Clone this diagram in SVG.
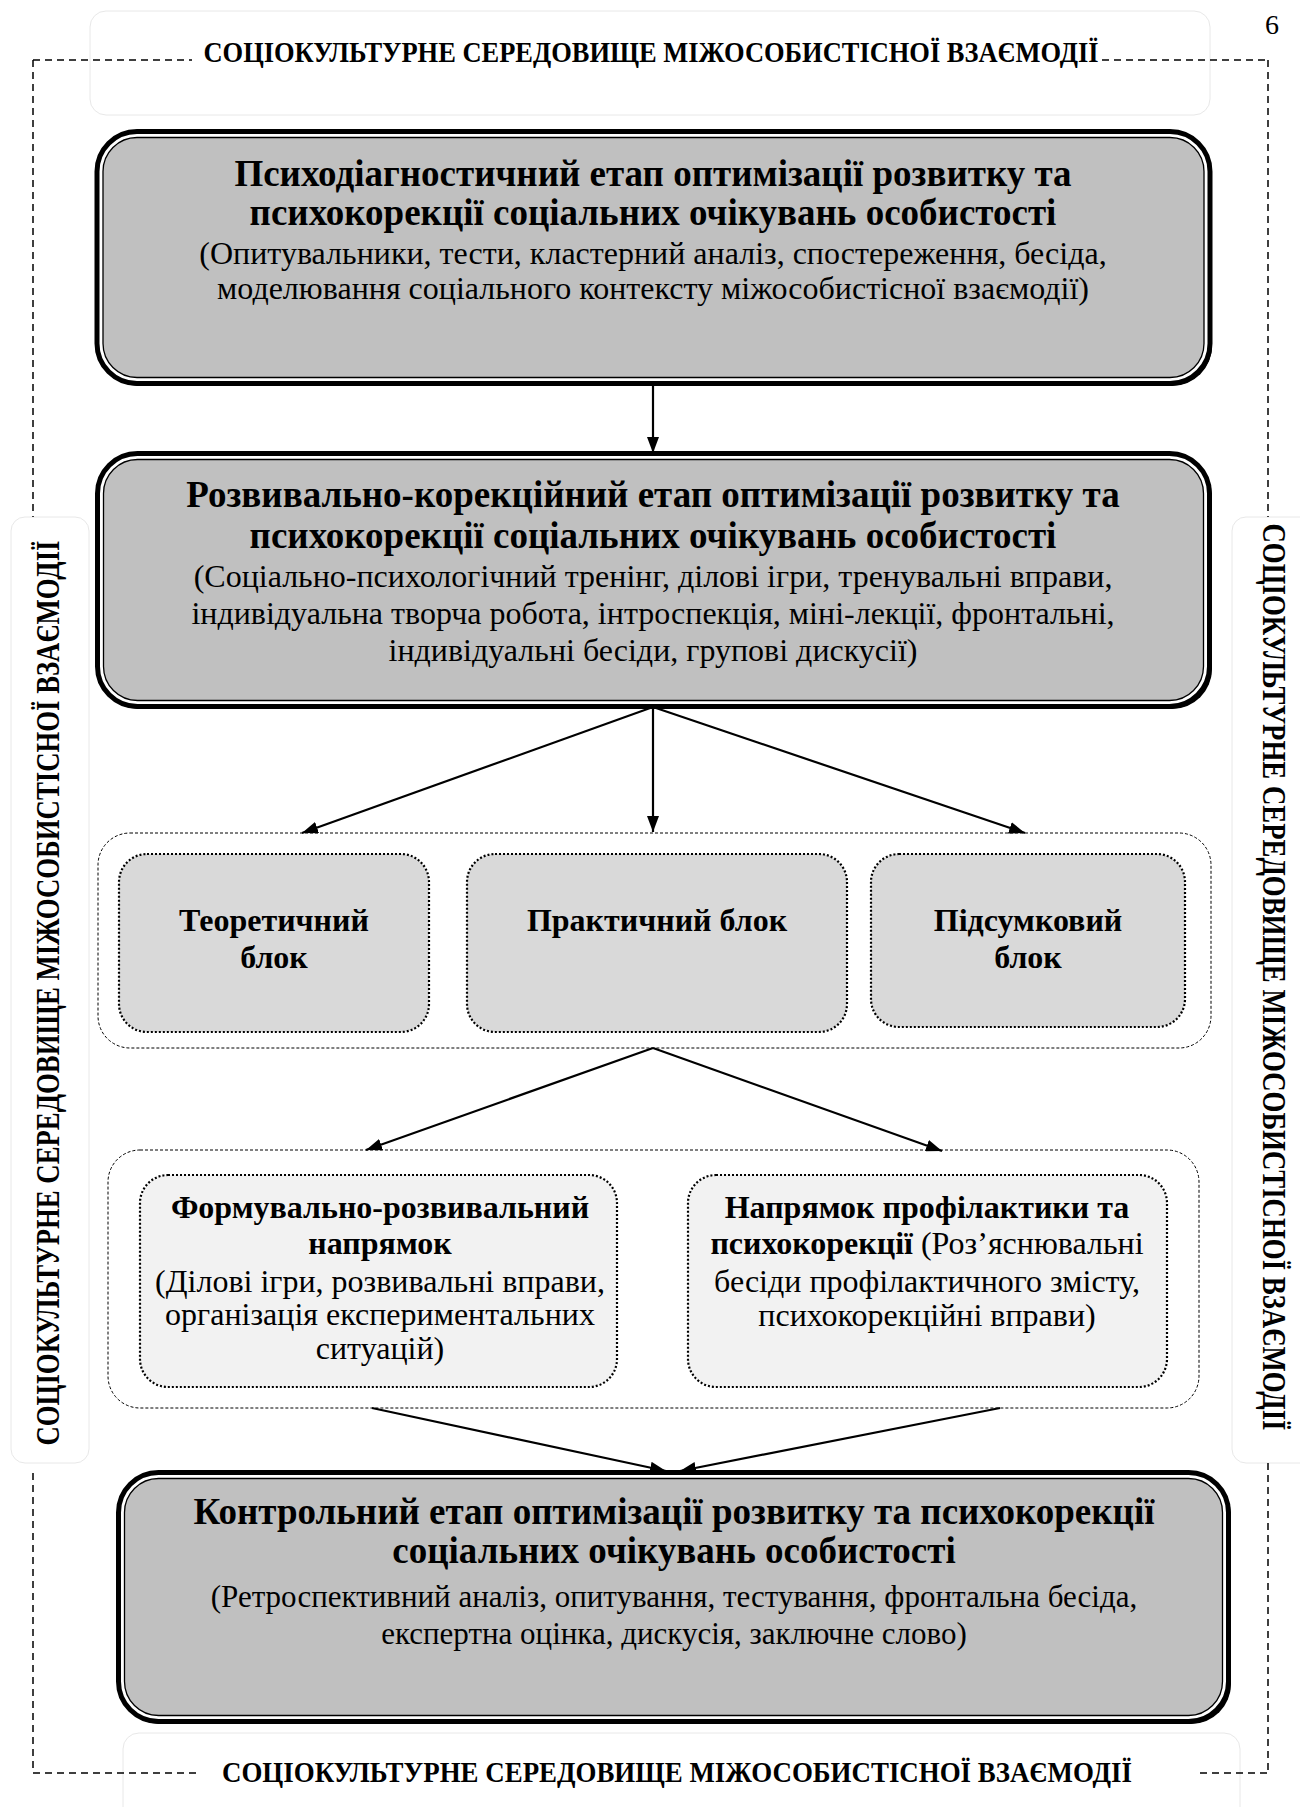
<svg xmlns="http://www.w3.org/2000/svg" width="1300" height="1807" viewBox="0 0 1300 1807">
<style>
.bg{fill:#fff}
.lbl{fill:#fff;stroke:#e8e8e8;stroke-width:1}
.env{fill:none;stroke:#000;stroke-width:1.5;stroke-dasharray:7 5}
.envt{font-family:"Liberation Serif",serif;font-weight:bold;font-size:30px;fill:#000}
.outer{fill:#fff;stroke:#000;stroke-width:5}
.inner{fill:#c0c0c0;stroke:#000;stroke-width:1.3}
.shadow{fill:#000}
.cont{fill:none;stroke:#000;stroke-width:1;stroke-dasharray:3 2}
.blk{fill:#d9d9d9;stroke:#000;stroke-width:2.2;stroke-dasharray:2 2}
.dir{fill:#f2f2f2;stroke:#000;stroke-width:2.2;stroke-dasharray:2 2}
.t{font-family:"Liberation Serif",serif;fill:#000;text-anchor:middle}
.b37{font-weight:bold;font-size:37px}
.r32{font-size:32px}
.r31{font-size:31px}
.b32{font-weight:bold;font-size:32px}
.r32b{font-size:32px}
.con{fill:none;stroke:#000;stroke-width:2.2;marker-end:url(#ah)}
</style>
<defs>
<marker id="ah" markerUnits="userSpaceOnUse" markerWidth="16" markerHeight="12" refX="16" refY="6" orient="auto">
<path d="M0,0 L16,6 L0,12 z" fill="#000"/>
</marker>
</defs>
<rect class="bg" x="0" y="0" width="1300" height="1807"/>

<g id="environment">
<rect class="lbl" x="90" y="11" width="1120" height="104" rx="16"/>
<rect class="lbl" x="11" y="517" width="78" height="946" rx="14"/>
<rect class="lbl" x="1232" y="517" width="90" height="946" rx="14"/>
<rect class="lbl" x="123" y="1733" width="1117" height="100" rx="16"/>
<path class="env" d="M33,60 H192 M1102,60 H1268 M33,60 V517 M33,1473 V1773 M1268,60 V517 M1268,1463 V1773 M33,1773 H196 M1200,1773 H1268"/>
<text class="envt" x="651" y="62" text-anchor="middle" textLength="895" lengthAdjust="spacingAndGlyphs">СОЦІОКУЛЬТУРНЕ СЕРЕДОВИЩЕ МІЖОСОБИСТІСНОЇ ВЗАЄМОДІЇ</text>
<text class="envt" x="677" y="1782" text-anchor="middle" textLength="910" lengthAdjust="spacingAndGlyphs">СОЦІОКУЛЬТУРНЕ СЕРЕДОВИЩЕ МІЖОСОБИСТІСНОЇ ВЗАЄМОДІЇ</text>
<text class="envt" style="font-size:33px" transform="translate(59,993) rotate(-90)" text-anchor="middle" textLength="905" lengthAdjust="spacingAndGlyphs">СОЦІОКУЛЬТУРНЕ СЕРЕДОВИЩЕ МІЖОСОБИСТІСНОЇ ВЗАЄМОДІЇ</text>
<text class="envt" style="font-size:33px" transform="translate(1263,977) rotate(90)" text-anchor="middle" textLength="907" lengthAdjust="spacingAndGlyphs">СОЦІОКУЛЬТУРНЕ СЕРЕДОВИЩЕ МІЖОСОБИСТІСНОЇ ВЗАЄМОДІЇ</text>
<text class="t" x="1272" y="34" style="font-size:28px">6</text>
</g>

<g id="connectors">
<path class="con" d="M653,385 V453"/>
<path class="con" d="M653,707 L302,833"/>
<path class="con" d="M653,707 V832"/>
<path class="con" d="M653,707 L1025,833"/>
<path class="con" d="M653,1048 L366,1150"/>
<path class="con" d="M653,1048 L942,1151"/>
<path class="con" d="M372,1408 L666,1471"/>
<path class="con" d="M1000,1408 L680,1471"/>
</g>

<g id="stage1">
<rect class="shadow" x="99" y="134" width="1113" height="252" rx="40"/>
<rect class="outer" x="97" y="131.5" width="1113" height="252" rx="40"/>
<rect class="inner" x="103" y="137.5" width="1101" height="240" rx="34"/>
<text class="t b37" x="653" y="186">Психодіагностичний етап оптимізації розвитку та</text>
<text class="t b37" x="653" y="225">психокорекції соціальних очікувань особистості</text>
<text class="t r32" x="653" y="264">(Опитувальники, тести, кластерний аналіз, спостереження, бесіда,</text>
<text class="t r32" x="653" y="299">моделювання соціального контексту міжособистісної взаємодії)</text>
</g>

<g id="stage2">
<rect class="shadow" x="99" y="456" width="1113" height="253" rx="40"/>
<rect class="outer" x="97.5" y="453.5" width="1112" height="253" rx="40"/>
<rect class="inner" x="103.5" y="459.5" width="1100" height="241" rx="34"/>
<text class="t b37" x="653" y="507">Розвивально-корекційний етап оптимізації розвитку та</text>
<text class="t b37" x="653" y="548">психокорекції соціальних очікувань особистості</text>
<text class="t r32" x="653" y="587">(Соціально-психологічний тренінг, ділові ігри, тренувальні вправи,</text>
<text class="t r32" x="653" y="624">індивідуальна творча робота, інтроспекція, міні-лекції, фронтальні,</text>
<text class="t r32" x="653" y="661">індивідуальні бесіди, групові дискусії)</text>
</g>

<g id="blocks-group">
<rect class="cont" x="98" y="833" width="1113" height="215" rx="32"/>
</g>
<g id="block-theory">
<rect class="blk" x="119" y="854" width="310" height="178" rx="28"/>
<text class="t b32" x="274" y="931">Теоретичний</text>
<text class="t b32" x="274" y="968">блок</text>
</g>
<g id="block-practice">
<rect class="blk" x="467" y="854" width="380" height="178" rx="28"/>
<text class="t b32" x="657" y="931">Практичний блок</text>
</g>
<g id="block-summary">
<rect class="blk" x="871" y="854" width="314" height="173" rx="28"/>
<text class="t b32" x="1028" y="931">Підсумковий</text>
<text class="t b32" x="1028" y="968">блок</text>
</g>

<g id="directions-group">
<rect class="cont" x="108" y="1150" width="1091" height="258" rx="32"/>
</g>
<g id="dir-forming">
<rect class="dir" x="140" y="1175" width="477" height="212" rx="28"/>
<text class="t b32" x="380" y="1218">Формувально-розвивальний</text>
<text class="t b32" x="380" y="1254">напрямок</text>
<text class="t r32b" x="380" y="1292">(Ділові ігри, розвивальні вправи,</text>
<text class="t r32b" x="380" y="1325">організація експериментальних</text>
<text class="t r32b" x="380" y="1359">ситуацій)</text>
</g>
<g id="dir-prevention">
<rect class="dir" x="688" y="1175" width="479" height="212" rx="28"/>
<text class="t b32" x="927" y="1218">Напрямок профілактики та</text>
<text class="t r32b" x="927" y="1254"><tspan font-weight="bold">психокорекції</tspan> (Роз’яснювальні</text>
<text class="t r32b" x="927" y="1292">бесіди профілактичного змісту,</text>
<text class="t r32b" x="927" y="1326">психокорекційні вправи)</text>
</g>

<g id="stage3">
<rect class="shadow" x="120" y="1475" width="1111" height="249" rx="40"/>
<rect class="outer" x="118.5" y="1472.5" width="1110" height="249" rx="40"/>
<rect class="inner" x="124.5" y="1478.5" width="1098" height="237" rx="34"/>
<text class="t b37" x="674" y="1524">Контрольний етап оптимізації розвитку та психокорекції</text>
<text class="t b37" x="674" y="1563">соціальних очікувань особистості</text>
<text class="t r31" x="674" y="1607">(Ретроспективний аналіз, опитування, тестування, фронтальна бесіда,</text>
<text class="t r31" x="674" y="1644">експертна оцінка, дискусія, заключне слово)</text>
</g>
</svg>
